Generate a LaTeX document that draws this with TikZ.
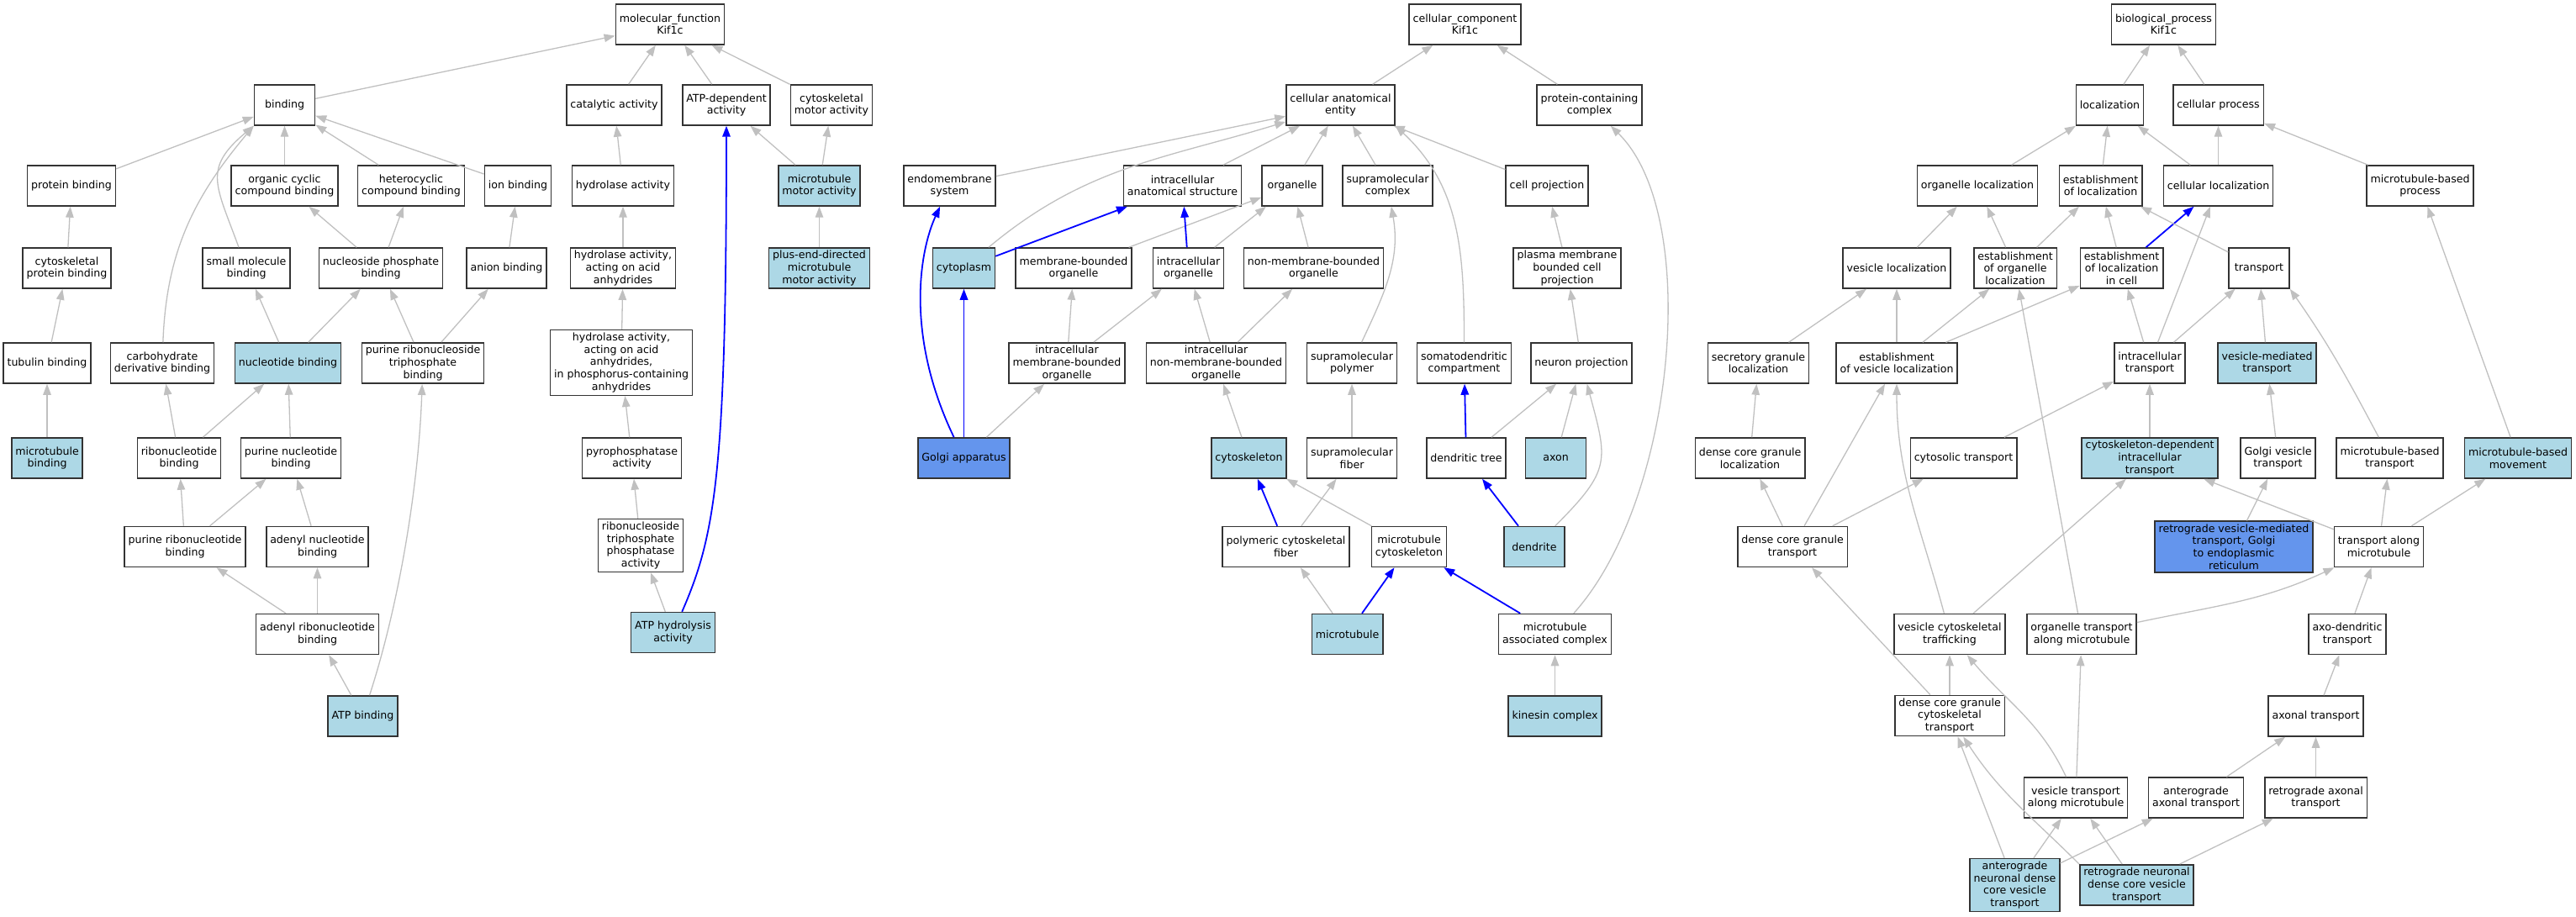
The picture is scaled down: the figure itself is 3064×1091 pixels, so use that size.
\documentclass[tikz,border=0pt]{standalone}
\usepackage{fontspec}
\setmainfont{DejaVu Sans}
\usepackage{xcolor}
\usepackage{tikz}
\usetikzlibrary{arrows.meta}
\definecolor{isagray}{HTML}{C0C0C0}
\definecolor{hitblue}{HTML}{ADD8E6}
\definecolor{leafblue}{HTML}{6495ED}
\definecolor{pathblue}{HTML}{0000FF}

\begin{document}
\begin{tikzpicture}[x=1pt,y=1pt,
  term/.style={draw=black!80,line width=1.5pt,fill=white,rectangle,align=center,minimum width=72pt,minimum height=48pt,inner xsep=4.5pt,inner ysep=3.5pt,font=\fontsize{12.6pt}{14.6pt}\selectfont},
  hit/.style={term,fill=hitblue},
  leaf/.style={term,fill=leafblue},
  isa/.style={draw=isagray,line width=1.3pt,-{Triangle[length=13pt,width=9.5pt]}},
  route/.style={draw=pathblue,line width=1.8pt,-{Triangle[length=13pt,width=9.5pt]}}]
\useasboundingbox (0,0) rectangle (3064,-1091);

\node[term] (mf) at (797,-29) {molecular\_function\\Kif1c};
\node[term] (bind) at (338.5,-125) {binding};
\node[term] (cat) at (730.5,-125) {catalytic activity};
\node[term] (atpdep) at (864,-125) {ATP-dependent\\activity};
\node[term] (cmot) at (989,-125) {cytoskeletal\\motor activity};
\node[term] (protb) at (85,-221) {protein binding};
\node[term] (ocb) at (338.5,-221) {organic cyclic\\compound binding};
\node[term] (hcb) at (489,-221) {heterocyclic\\compound binding};
\node[term] (ionb) at (616,-221) {ion binding};
\node[term] (hyd) at (741,-221) {hydrolase activity};
\node[hit] (mtmot) at (974.5,-221) {microtubule\\motor activity};
\node[term] (cpb) at (79.5,-319) {cytoskeletal\\protein binding};
\node[term] (smb) at (293,-319) {small molecule\\binding};
\node[term] (npb) at (453,-319) {nucleoside phosphate\\binding};
\node[term] (anb) at (602.5,-319) {anion binding};
\node[term] (hydaa) at (741,-319) {hydrolase activity,\\acting on acid\\anhydrides};
\node[hit] (pemot) at (974.5,-319) {plus-end-directed\\microtubule\\motor activity};
\node[term] (tubb) at (56,-432) {tubulin binding};
\node[term] (cdb) at (193,-432) {carbohydrate\\derivative binding};
\node[hit] (nucb) at (342.5,-432) {nucleotide binding};
\node[term] (prntb) at (503,-432) {purine ribonucleoside\\triphosphate\\binding};
\node[term] (hydpc) at (739,-431.5) {hydrolase activity,\\acting on acid\\anhydrides,\\in phosphorus-containing\\anhydrides};
\node[hit] (mtb) at (56,-545) {microtubule\\binding};
\node[term] (rnb) at (213,-545) {ribonucleotide\\binding};
\node[term] (pnb) at (346,-545) {purine nucleotide\\binding};
\node[term] (ppa) at (751.5,-545) {pyrophosphatase\\activity};
\node[term] (prb) at (220,-650.5) {purine ribonucleotide\\binding};
\node[term] (anub) at (377.5,-650.5) {adenyl nucleotide\\binding};
\node[term] (rtpa) at (762,-649) {ribonucleoside\\triphosphate\\phosphatase\\activity};
\node[term] (arb) at (377.5,-754.5) {adenyl ribonucleotide\\binding};
\node[hit] (atph) at (800.5,-752.5) {ATP hydrolysis\\activity};
\node[hit] (atpb) at (431.5,-852) {ATP binding};

\node[term] (cc) at (1742.5,-29) {cellular\_component\\Kif1c};
\node[term] (cae) at (1594.5,-125) {cellular anatomical\\entity};
\node[term] (pcc) at (1890.5,-125) {protein-containing\\complex};
\node[term] (ems) at (1129.5,-221) {endomembrane\\system};
\node[term] (ias) at (1406.5,-221) {intracellular\\anatomical structure};
\node[term] (org) at (1537,-221) {organelle};
\node[term] (smc) at (1650.5,-221) {supramolecular\\complex};
\node[term] (cproj) at (1840,-221) {cell projection};
\node[hit] (cyto) at (1146.5,-319) {cytoplasm};
\node[term] (mbo) at (1277,-319) {membrane-bounded\\organelle};
\node[term] (io) at (1413.5,-319) {intracellular\\organelle};
\node[term] (nmbo) at (1562.5,-319) {non-membrane-bounded\\organelle};
\node[term] (pmbcp) at (1864,-319) {plasma membrane\\bounded cell\\projection};
\node[term] (imbo) at (1269,-432) {intracellular\\membrane-bounded\\organelle};
\node[term] (inmbo) at (1446.5,-432) {intracellular\\non-membrane-bounded\\organelle};
\node[term] (smp) at (1608,-432) {supramolecular\\polymer};
\node[term] (sdc) at (1741.5,-432) {somatodendritic\\compartment};
\node[term] (nproj) at (1881,-432) {neuron projection};
\node[leaf] (golgi) at (1146.5,-545) {Golgi apparatus};
\node[hit] (csk) at (1485.5,-545) {cytoskeleton};
\node[term] (smf) at (1608,-545) {supramolecular\\fiber};
\node[term] (dtree) at (1744,-545) {dendritic tree};
\node[hit] (axon) at (1850.5,-545) {axon};
\node[term] (pcf) at (1529.5,-650.5) {polymeric cytoskeletal\\fiber};
\node[term] (mtcsk) at (1676,-650.5) {microtubule\\cytoskeleton};
\node[hit] (dend) at (1825,-650.5) {dendrite};
\node[hit] (mt) at (1602.5,-754.5) {microtubule};
\node[term] (mac) at (1849.5,-754.5) {microtubule\\associated complex};
\node[hit] (kin) at (1849.5,-852) {kinesin complex};

\node[term] (bp) at (2573.5,-29) {biological\_process\\Kif1c};
\node[term] (loc) at (2509.5,-125) {localization};
\node[term] (cproc) at (2638.5,-125) {cellular process};
\node[term] (oloc) at (2352,-221) {organelle localization};
\node[term] (eloc) at (2498.5,-221) {establishment\\of localization};
\node[term] (cloc) at (2638.5,-221) {cellular localization};
\node[term] (mbp) at (2878.5,-221) {microtubule-based\\process};
\node[term] (vloc) at (2256,-319) {vesicle localization};
\node[term] (eol) at (2397,-319) {establishment\\of organelle\\localization};
\node[term] (elc) at (2523.5,-319) {establishment\\of localization\\in cell};
\node[term] (trans) at (2687,-319) {transport};
\node[term] (sgl) at (2091.5,-432) {secretory granule\\localization};
\node[term] (evl) at (2256,-432) {establishment\\of vesicle localization};
\node[term] (itr) at (2557,-432) {intracellular\\transport};
\node[hit] (vmt) at (2696.5,-432) {vesicle-mediated\\transport};
\node[term] (dcgl) at (2081.5,-545) {dense core granule\\localization};
\node[term] (cyt) at (2335.5,-545) {cytosolic transport};
\node[hit] (cdit) at (2557,-545) {cytoskeleton-dependent\\intracellular\\transport};
\node[term] (gvt) at (2709.5,-545) {Golgi vesicle\\transport};
\node[term] (mbt) at (2842.5,-545) {microtubule-based\\transport};
\node[hit] (mbm) at (2995,-545) {microtubule-based\\movement};
\node[term] (dcgt) at (2132,-650.5) {dense core granule\\transport};
\node[leaf] (rvgt) at (2657,-650.5) {retrograde vesicle-mediated\\transport, Golgi\\to endoplasmic\\reticulum};
\node[term] (tam) at (2829.5,-650.5) {transport along\\microtubule};
\node[term] (vct) at (2319,-754.5) {vesicle cytoskeletal\\trafficking};
\node[term] (otam) at (2476,-754.5) {organelle transport\\along microtubule};
\node[term] (adt) at (2792,-754.5) {axo-dendritic\\transport};
\node[term] (dcgct) at (2319,-851.5) {dense core granule\\cytoskeletal\\transport};
\node[term] (axt) at (2754.5,-852) {axonal transport};
\node[term] (vtam) at (2469,-949) {vesicle transport\\along microtubule};
\node[term] (aat) at (2612,-949) {anterograde\\axonal transport};
\node[term] (rat) at (2754.5,-949) {retrograde axonal\\transport};
\node[hit] (andcv) at (2396.5,-1053) {anterograde\\neuronal dense\\core vesicle\\transport};
\node[hit] (rndcv) at (2541.5,-1053) {retrograde neuronal\\dense core vesicle\\transport};

\draw[isa] (bind) -- (mf);
\draw[isa] (cat) -- (mf);
\draw[isa] (atpdep) -- (mf);
\draw[isa] (cmot) -- (mf);
\draw[isa] (protb) -- (bind);
\draw[isa] (ocb) -- (bind);
\draw[isa] (hcb) -- (bind);
\draw[isa] (ionb) -- (bind);
\draw[isa] (smb) to[out=110,in=-140,looseness=1.4] (bind.south west);
\draw[isa] (cdb) to[out=88,in=-130] (bind.south west);
\draw[isa] (hyd) -- (cat);
\draw[isa] (mtmot) -- (atpdep);
\draw[isa] (mtmot) -- (cmot);
\draw[isa] (cpb) -- (protb);
\draw[isa] (npb) -- (ocb);
\draw[isa] (npb) -- (hcb);
\draw[isa] (anb) -- (ionb);
\draw[isa] (hydaa) -- (hyd);
\draw[isa] (pemot) -- (mtmot);
\draw[isa] (tubb) -- (cpb);
\draw[isa] (nucb) -- (smb);
\draw[isa] (nucb) -- (npb);
\draw[isa] (prntb) -- (npb);
\draw[isa] (prntb) -- (anb);
\draw[isa] (hydpc) -- (hydaa);
\draw[isa] (mtb) -- (tubb);
\draw[isa] (rnb) -- (cdb);
\draw[isa] (rnb) -- (nucb);
\draw[isa] (pnb) -- (nucb);
\draw[isa] (ppa) -- (hydpc);
\draw[isa] (prb) -- (rnb);
\draw[isa] (prb) -- (pnb);
\draw[isa] (anub) -- (pnb);
\draw[isa] (rtpa) -- (ppa);
\draw[isa] (arb) -- (prb);
\draw[isa] (arb) -- (anub);
\draw[isa] (atph) -- (rtpa);
\draw[route] (atph) .. controls +(50,115) and +(0,-440) .. (atpdep);
\draw[isa] (atpb) -- (arb);
\draw[isa] (atpb) to[out=72,in=-92,looseness=0.8] (prntb);

\draw[isa] (cae) -- (cc);
\draw[isa] (pcc) -- (cc);
\draw[isa] (ems) -- (cae);
\draw[isa] (ias) -- (cae);
\draw[isa] (org) -- (cae);
\draw[isa] (smc) -- (cae);
\draw[isa] (cproj) -- (cae);
\draw[isa] (cyto) to[out=40,in=-163] (cae);
\draw[isa] (sdc) to[out=90,in=-43] (cae.south east);
\draw[route] (cyto) -- (ias);
\draw[isa] (mbo) -- (org);
\draw[route] (io) -- (ias);
\draw[isa] (io) -- (org);
\draw[isa] (nmbo) -- (org);
\draw[isa] (pmbcp) -- (cproj);
\draw[isa] (imbo) -- (mbo);
\draw[isa] (imbo) -- (io);
\draw[isa] (inmbo) -- (io);
\draw[isa] (inmbo) -- (nmbo);
\draw[isa] (smp) to[out=65,in=-80] (smc);
\draw[isa] (nproj) -- (pmbcp);
\draw[route] (golgi) .. controls (1076,-398) and (1094,-298) .. (ems);
\draw[route] (golgi) -- (cyto);
\draw[isa] (golgi) -- (imbo);
\draw[isa] (csk) -- (inmbo);
\draw[isa] (smf) -- (smp);
\draw[route] (dtree) -- (sdc);
\draw[isa] (dtree) -- (nproj);
\draw[isa] (axon) -- (nproj);
\draw[route] (pcf) -- (csk);
\draw[isa] (pcf) -- (smf);
\draw[isa] (mtcsk) -- (csk);
\draw[route] (dend) -- (dtree);
\draw[isa] (dend) to[out=45,in=-75,looseness=1.4] (nproj);
\draw[isa] (mt) -- (pcf);
\draw[route] (mt) -- (mtcsk);
\draw[route] (mac) -- (mtcsk);
\draw[isa] (mac) to[out=48,in=-44.5,out distance=181pt,in distance=152pt] (pcc);
\draw[isa] (kin) -- (mac);

\draw[isa] (loc) -- (bp);
\draw[isa] (cproc) -- (bp);
\draw[isa] (oloc) -- (loc);
\draw[isa] (eloc) -- (loc);
\draw[isa] (cloc) -- (loc);
\draw[isa] (cloc) -- (cproc);
\draw[isa] (mbp) -- (cproc);
\draw[isa] (vloc) -- (oloc);
\draw[isa] (eol) -- (oloc);
\draw[isa] (eol) -- (eloc);
\draw[isa] (elc) -- (eloc);
\draw[route] (elc) -- (cloc);
\draw[isa] (trans) -- (eloc);
\draw[isa] (sgl) -- (vloc);
\draw[isa] (evl) -- (vloc);
\draw[isa] (evl) -- (eol);
\draw[isa] (evl) -- (elc);
\draw[isa] (itr) -- (elc);
\draw[isa] (itr) -- (trans);
\draw[isa] (itr) -- (cloc);
\draw[isa] (vmt) -- (trans);
\draw[isa] (mbt) to[out=118,in=-55] (trans.south east);
\draw[isa] (mbm) -- (mbp);
\draw[isa] (dcgl) -- (sgl);
\draw[isa] (cyt) -- (itr);
\draw[isa] (cdit) -- (itr);
\draw[isa] (gvt) -- (vmt);
\draw[isa] (dcgt) -- (dcgl);
\draw[isa] (dcgt) -- (evl);
\draw[isa] (dcgt) -- (cyt);
\draw[isa] (rvgt) -- (gvt);
\draw[isa] (tam) -- (cdit);
\draw[isa] (tam) -- (mbt);
\draw[isa] (tam) -- (mbm);
\draw[isa] (vct) to[out=105,in=-90] (evl);
\draw[isa] (vct) -- (cdit);
\draw[isa] (otam) -- (eol);
\draw[isa] (otam) to[out=12,in=-155] (tam);
\draw[isa] (adt) -- (tam);
\draw[isa] (dcgct) -- (dcgt);
\draw[isa] (dcgct) -- (vct);
\draw[isa] (axt) -- (adt);
\draw[isa] (vtam) to[out=115,in=-50] (vct);
\draw[isa] (vtam) -- (otam);
\draw[isa] (aat) -- (axt);
\draw[isa] (rat) -- (axt);
\draw[isa] (andcv) -- (dcgct);
\draw[isa] (andcv) -- (vtam);
\draw[isa] (andcv) -- (aat);
\draw[isa] (rndcv.north west) to[out=135,in=-57] (dcgct);
\draw[isa] (rndcv) -- (vtam);
\draw[isa] (rndcv) -- (rat);
\end{tikzpicture}
\end{document}
